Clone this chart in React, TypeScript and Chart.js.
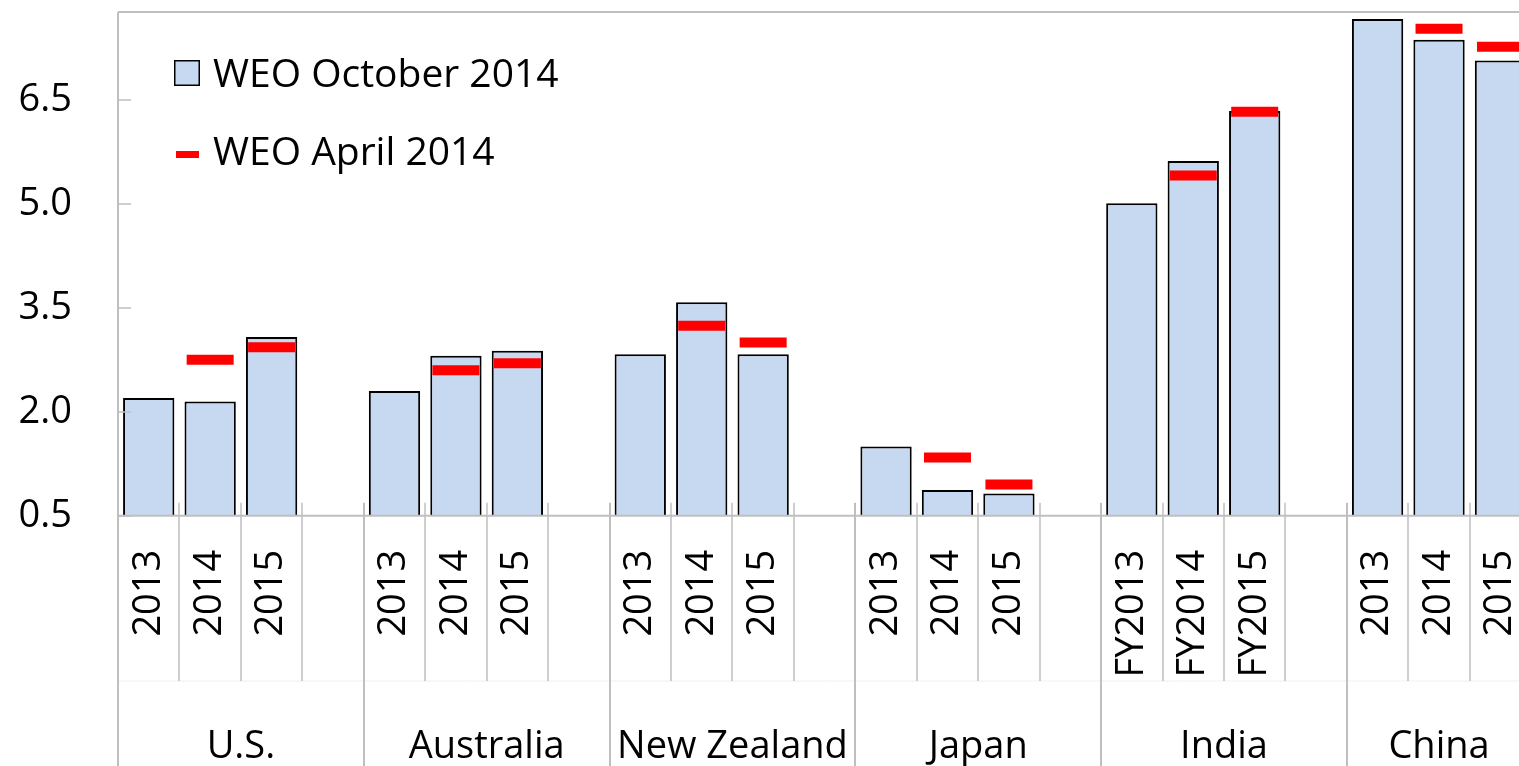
import React, { useEffect, useRef } from 'react';
import { Chart, registerables } from 'chart.js';

Chart.register(...registerables);

// ---- data ----
const groups = ['U.S.', 'Australia', 'New Zealand', 'Japan', 'India', 'China'];
const yearLabels = [
  ['2013', '2014', '2015'],
  ['2013', '2014', '2015'],
  ['2013', '2014', '2015'],
  ['2013', '2014', '2015'],
  ['FY2013', 'FY2014', 'FY2015'],
  ['2013', '2014', '2015'],
];
const weoOct2014 = [
  [2.2, 2.15, 3.08],
  [2.3, 2.81, 2.88],
  [2.83, 3.58, 2.83],
  [1.5, 0.87, 0.82],
  [5.01, 5.62, 6.34],
  [7.67, 7.37, 7.07],
];
const weoApr2014 = [
  [null, 2.75, 2.93],
  [null, 2.6, 2.7],
  [null, 3.24, 3.0],
  [null, 1.34, 0.95],
  [null, 5.41, 6.33],
  [null, 7.53, 7.27],
];
const yTicks = [0.5, 2.0, 3.5, 5.0, 6.5];
const legendLabels = ['WEO October 2014', 'WEO April 2014'];

// ---- build flat slot arrays (3 years + 1 blank gap per group, no gap after last) ----
const xLabels: string[] = [];
const barData: (number | null)[] = [];
const markData: (number | null)[] = [];
groups.forEach((g, gi) => {
  yearLabels[gi].forEach((lab, k) => {
    xLabels.push(lab);
    barData.push(weoOct2014[gi][k]);
    markData.push(weoApr2014[gi][k]);
  });
  if (gi < groups.length - 1) {
    xLabels.push('');
    barData.push(null);
    markData.push(null);
  }
});

const FAMILY = "'Open Sans', 'Noto Sans', sans-serif";
const GRAY = '#BFBFBF';
const BAR_FILL = '#C6D9F1';
const RED = '#FF0000';
const CANVAS_W = 1545;
const CANVAS_H = 766;

const decorPlugin = {
  id: 'decor',
  afterDraw(chart: any) {
    const { ctx, chartArea: ca, scales } = chart;
    const x = scales.x;
    const y = scales.y;
    const H = chart.height;
    ctx.save();
    const line = (x1: number, y1: number, x2: number, y2: number, w: number, c: string) => {
      ctx.strokeStyle = c;
      ctx.lineWidth = w;
      ctx.beginPath();
      ctx.moveTo(x1, y1);
      ctx.lineTo(x2, y2);
      ctx.stroke();
    };
    const L = Math.round(ca.left);
    const T = Math.round(ca.top);
    const B = ca.bottom;
    const R = ca.right;
    const slotW = x.getPixelForValue(1) - x.getPixelForValue(0);
    const bnd = (i: number) => x.getPixelForValue(i) - slotW / 2;
    const N = xLabels.length;

    // faint separator between label levels
    line(L, 681, R, 681, 1, '#F0F0F0');
    // plot border top and left
    line(L, T, R, T, 2, GRAY);
    line(L, T, L, H, 2, GRAY);
    line(R, T, R, H, 2, GRAY);
    // y tick marks (inside)
    yTicks.forEach((v) => {
      const py = Math.round(y.getPixelForValue(v));
      line(L, py, L + 13, py, 1.5, GRAY);
    });
    // x axis line
    line(L, B, R, B, 2, GRAY);
    // slot boundaries
    for (let i = 1; i < N; i++) {
      const px = Math.round(bnd(i));
      const isGroup = i % 4 === 0;
      line(px, B - 13, px, isGroup ? H : 681, isGroup ? 2 : 1.5, GRAY);
    }
    // group labels
    ctx.fillStyle = '#000';
    ctx.font = `38px ${FAMILY}`;
    ctx.textAlign = 'center';
    ctx.textBaseline = 'alphabetic';
    groups.forEach((g, gi) => {
      const s = gi * 4;
      const e = Math.min(s + 4, N);
      const cx = (bnd(s) + bnd(e)) / 2;
      ctx.fillText(g, cx, 758);
    });
    // legend
    ctx.fillStyle = BAR_FILL;
    ctx.fillRect(174, 60, 26, 26);
    ctx.strokeStyle = '#000';
    ctx.lineWidth = 1.5;
    ctx.strokeRect(174.75, 60.75, 24.5, 24.5);
    ctx.fillStyle = RED;
    ctx.fillRect(176, 151, 23, 7);
    ctx.fillStyle = '#000';
    ctx.font = `39px ${FAMILY}`;
    ctx.textAlign = 'left';
    ctx.fillText(legendLabels[0], 213, 87);
    ctx.fillText(legendLabels[1], 213, 165);
    ctx.restore();
  },
};

export default function App() {
  const ref = useRef<HTMLCanvasElement>(null);
  useEffect(() => {
    const canvas = ref.current;
    if (!canvas) return;
    const chart = new Chart(canvas, {
      type: 'bar',
      data: {
        labels: xLabels,
        datasets: [
          {
            type: 'bar',
            label: legendLabels[0],
            data: barData,
            backgroundColor: BAR_FILL,
            borderColor: '#000',
            borderWidth: 2,
            barPercentage: 0.835,
            categoryPercentage: 1,
            order: 2,
          } as any,
          {
            type: 'line',
            label: legendLabels[1],
            data: markData,
            showLine: false,
            pointStyle: 'line',
            pointRadius: 23.5,
            pointHoverRadius: 23.5,
            pointBorderWidth: 10,
            pointHoverBorderWidth: 10,
            pointBorderColor: RED,
            pointBackgroundColor: RED,
            borderColor: RED,
            order: 1,
          } as any,
        ],
      },
      options: {
        responsive: false,
        animation: false,
        devicePixelRatio: 1,
        layout: { autoPadding: false, padding: { top: 12, right: CANVAS_W - 1531.2, left: 0, bottom: 0 } },
        plugins: {
          legend: { display: false },
          tooltip: { enabled: false },
        },
        events: [],
        scales: {
          x: {
            type: 'category',
            offset: true,
            grid: { display: false, drawTicks: false },
            border: { display: false },
            ticks: {
              autoSkip: false,
              minRotation: 90,
              maxRotation: 90,
              padding: 34,
              color: '#000',
              font: { family: FAMILY, size: 38 },
            },
            afterFit: (s: any) => {
              s.height = CANVAS_H - 515.7;
              s.paddingLeft = 0;
              s.paddingRight = 0;
              s.paddingTop = 0;
              s.paddingBottom = 0;
            },
          },
          y: {
            type: 'linear',
            min: 0.5,
            max: 7.77,
            grid: { display: false, drawTicks: false },
            border: { display: false },
            afterBuildTicks: (s: any) => {
              s.ticks = yTicks.map((v) => ({ value: v }));
            },
            ticks: {
              padding: 46,
              color: '#000',
              font: { family: FAMILY, size: 38 },
              callback: (v: any) => Number(v).toFixed(1),
            },
            afterFit: (s: any) => {
              s.width = 118;
              s.paddingTop = 0;
              s.paddingBottom = 0;
              s.paddingLeft = 0;
              s.paddingRight = 0;
            },
          },
        },
      } as any,
      plugins: [decorPlugin],
    });
    return () => chart.destroy();
  }, []);
  return (
    <div
      style={{
        position: 'fixed',
        left: 0,
        top: 0,
        width: 1519,
        height: 766,
        overflow: 'hidden',
        background: '#fff',
      }}
    >
      <canvas
        ref={ref}
        width={CANVAS_W}
        height={CANVAS_H}
        style={{ display: 'block', width: CANVAS_W, height: CANVAS_H }}
      />
    </div>
  );
}
